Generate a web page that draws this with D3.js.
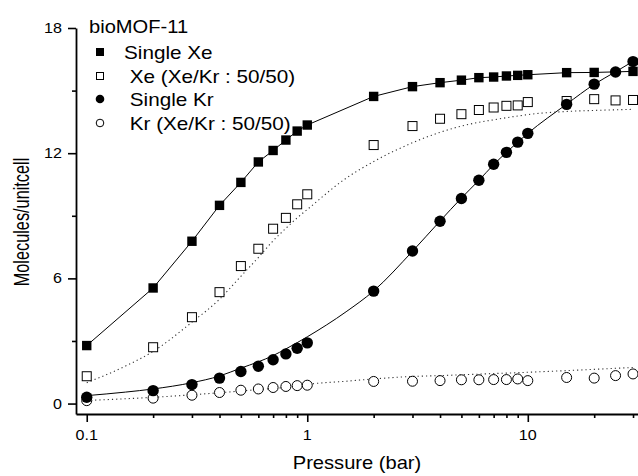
<!DOCTYPE html>
<html>
<head>
<meta charset="utf-8">
<script src="https://cdn.jsdelivr.net/npm/d3@7"></script>
<style>
  body { margin: 0; background: #fff; }
  text { font-family: "Liberation Sans", Arial, sans-serif; fill: #000; }
</style>
</head>
<body>
<div id="chart-area"></div>
<script>
// DATA
// ****
const chartTitle = "bioMOF-11"
const xTitle = "Pressure (bar)"
const yTitle = "Molecules/unitcell"

const xeSingleP = [0.1, 0.2, 0.3, 0.4, 0.5, 0.6, 0.7, 0.8, 0.9, 1, 2, 3, 4, 5, 6, 7, 8, 9, 10, 15, 20, 30]
const xeSingleV = [2.78, 5.54, 7.78, 9.5, 10.6, 11.58, 12.13, 12.63, 13.06, 13.35, 14.72, 15.19, 15.38, 15.5, 15.62, 15.65, 15.7, 15.73, 15.76, 15.86, 15.87, 15.92]

const mixP = [0.1, 0.2, 0.3, 0.4, 0.5, 0.6, 0.7, 0.8, 0.9, 1, 2, 3, 4, 5, 6, 7, 8, 9, 10, 15, 20, 25, 30]
const xeMixV = [1.31, 2.7, 4.14, 5.34, 6.59, 7.42, 8.38, 8.9, 9.55, 10.03, 12.39, 13.3, 13.65, 13.87, 14.07, 14.19, 14.27, 14.29, 14.45, 14.5, 14.59, 14.53, 14.55]
const krSingleV = [0.3, 0.62, 0.91, 1.22, 1.54, 1.79, 2.1, 2.38, 2.65, 2.91, 5.39, 7.31, 8.74, 9.83, 10.7, 11.47, 12.04, 12.53, 12.95, 14.34, 15.31, 15.89, 16.39]
const krMixV = [0.14, 0.26, 0.4, 0.53, 0.64, 0.7, 0.77, 0.82, 0.86, 0.88, 1.06, 1.07, 1.1, 1.14, 1.14, 1.15, 1.15, 1.18, 1.1, 1.25, 1.22, 1.34, 1.42]

// fitted curves
const fitP = [0.1, 0.15, 0.2, 0.3, 0.4, 0.5, 0.6, 0.7, 0.8, 0.9, 1, 1.5, 2, 3, 4, 5, 6, 7, 8, 9, 10, 15, 20, 25, 30]
const xeMixFit = [1.0, 1.8, 2.5, 3.9, 5.0, 6.1, 7.0, 7.8, 8.4, 8.9, 9.3, 10.8, 11.6, 12.5, 13.0, 13.3, 13.48, 13.6, 13.7, 13.78, 13.85, 14.0, 14.05, 14.08, 14.1]
const krSingleFit = [0.38, 0.55, 0.7, 1.0, 1.32, 1.7, 2.0, 2.3, 2.62, 2.92, 3.2, 4.4, 5.4, 7.3, 8.75, 9.85, 10.7, 11.45, 12.04, 12.53, 12.95, 14.35, 15.3, 15.9, 16.4]
const krMixFit = [0.15, 0.23, 0.3, 0.42, 0.52, 0.6, 0.67, 0.72, 0.78, 0.85, 0.92, 1.07, 1.18, 1.3, 1.34, 1.38, 1.41, 1.44, 1.46, 1.48, 1.5, 1.58, 1.64, 1.69, 1.73]

const legendLabels = ["Single Xe", " Xe (Xe/Kr : 50/50)", " Single Kr", " Kr (Xe/Kr : 50/50)"]

const xMajor = [0.1, 1, 10]
const xMinor = [0.2, 0.3, 0.4, 0.5, 0.6, 0.7, 0.8, 0.9, 2, 3, 4, 5, 6, 7, 8, 9, 20, 30]
const yMajor = [0, 6, 12, 18]
const yMinor = [3, 9, 15]

// CHART
// *****
const W = 638, H = 476
const SX = 1.15   // the picture's text is a bit wider than the font

const svg = d3.select("#chart-area").append("svg").attr("width", W).attr("height", H)

const x = d3.scaleLog().domain([0.0894, 31.6]).range([76, 638])
const y = d3.scaleLinear().domain([-0.5, 18]).range([414, 28])

function label(str, px, py, size, anchor, rot, sx) {
  return svg.append("text")
    .attr("transform", `translate(${px},${py}) scale(${sx || SX},1)` + (rot ? ` rotate(${rot})` : ""))
    .attr("text-anchor", anchor)
    .style("font-size", size + "px")
    .style("white-space", "pre")
    .text(str)
}

// axes
const xAxisG = svg.append("g").attr("transform", `translate(0,${y.range()[0]})`)
xAxisG.call(d3.axisBottom(x).tickValues(xMinor).tickSize(4).tickFormat(""))
xAxisG.call(g => g.select(".domain").remove())
xAxisG.append("g").call(d3.axisBottom(x).tickValues(xMajor).tickSize(8).tickFormat("").tickSizeOuter(0))

const yAxisG = svg.append("g").attr("transform", `translate(${x.range()[0]},0)`)
yAxisG.call(d3.axisLeft(y).tickValues(yMinor).tickSize(4).tickFormat(""))
yAxisG.call(g => g.select(".domain").remove())
yAxisG.append("g").call(d3.axisLeft(y).tickValues(yMajor).tickSize(8).tickFormat("").tickSizeOuter(0))

svg.selectAll(".domain, .tick line").attr("stroke", "#000").attr("stroke-width", 1.6)
svg.selectAll(".domain").attr("stroke-width", 1.8)

xMajor.forEach(v => label(v, x(v), 440, 14, "middle"))
yMajor.forEach(v => label(v, 62, y(v) + 5, 14, "end"))

label(xTitle, (x.range()[0] + x.range()[1]) / 2, 469, 17.5, "middle")
label(yTitle, 29, 222, 16.3, "middle", -90, 1.32)
label(chartTitle, 89, 33, 17.5, "start")

// lines
const pts = (ps, vs) => ps.map((p, i) => [x(p), y(vs[i])])
const lineLin = d3.line()
const lineSmooth = d3.line().curve(d3.curveMonotoneX)

svg.append("path").attr("d", lineLin(pts(xeSingleP, xeSingleV)))
  .attr("fill", "none").attr("stroke", "#000").attr("stroke-width", 1)
svg.append("path").attr("d", lineSmooth(pts(fitP, krSingleFit)))
  .attr("fill", "none").attr("stroke", "#000").attr("stroke-width", 1)
svg.append("path").attr("d", lineSmooth(pts(fitP, xeMixFit)))
  .attr("fill", "none").attr("stroke", "#333").attr("stroke-width", 1.1).attr("stroke-dasharray", "1.2,3")
svg.append("path").attr("d", lineSmooth(pts(fitP, krMixFit)))
  .attr("fill", "none").attr("stroke", "#333").attr("stroke-width", 1.1).attr("stroke-dasharray", "1.2,3")

// markers
function squares(ps, vs, filled, size) {
  svg.append("g").selectAll("rect").data(ps).enter().append("rect")
    .attr("x", (d, i) => x(d) - size / 2)
    .attr("y", (d, i) => y(vs[i]) - size / 2)
    .attr("width", size).attr("height", size)
    .attr("fill", filled ? "#000" : "#fff")
    .attr("stroke", "#000").attr("stroke-width", filled ? 0 : 1)
}
function circles(ps, vs, filled, r) {
  svg.append("g").selectAll("circle").data(ps).enter().append("circle")
    .attr("cx", d => x(d))
    .attr("cy", (d, i) => y(vs[i]))
    .attr("r", r)
    .attr("fill", filled ? "#000" : "#fff")
    .attr("stroke", "#000").attr("stroke-width", filled ? 0 : 1)
}

circles(mixP, krMixV, false, 5)
squares(mixP, xeMixV, false, 9)
squares(xeSingleP, xeSingleV, true, 9.4)
circles(mixP, krSingleV, true, 5.7)

// legend
const legY = [52, 76, 99, 123]
const legG = svg.append("g")
legG.append("rect").attr("x", 96).attr("y", legY[0] - 4).attr("width", 8).attr("height", 8).attr("fill", "#000")
legG.append("rect").attr("x", 96.5).attr("y", legY[1] - 3.5).attr("width", 7).attr("height", 7).attr("fill", "#fff").attr("stroke", "#000")
legG.append("circle").attr("cx", 100).attr("cy", legY[2]).attr("r", 4.3).attr("fill", "#000")
legG.append("circle").attr("cx", 100).attr("cy", legY[3]).attr("r", 3.8).attr("fill", "#fff").attr("stroke", "#000")
legendLabels.forEach((t, i) => label(t, 124, legY[i] + 6.5, 18, "start"))
</script>
</body>
</html>
